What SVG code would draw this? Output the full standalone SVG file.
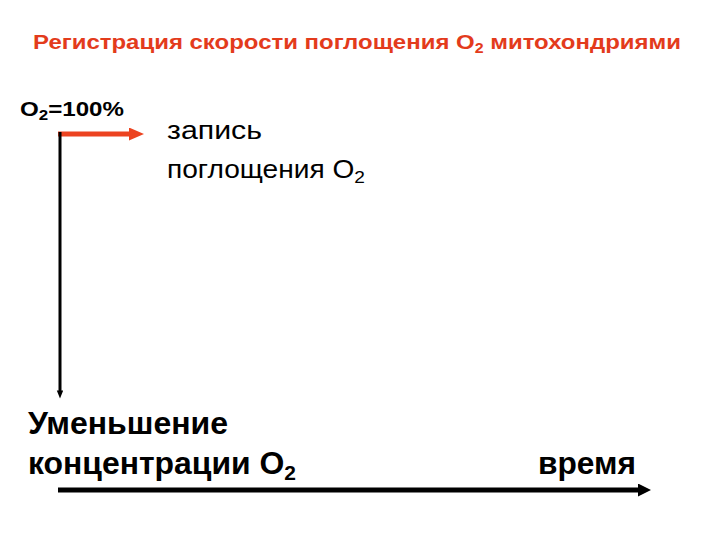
<svg xmlns="http://www.w3.org/2000/svg" width="720" height="540" viewBox="0 0 720 540">
<style>
text{font-family:"Liberation Sans",Arial,sans-serif;fill:#000}
.b{font-weight:bold}
.title{fill:#e33b1c;font-weight:bold;font-size:21px}
</style>
<defs>
<marker id="ar" viewBox="0 0 15 13" refX="7" refY="6.5" markerWidth="15" markerHeight="13" orient="auto" markerUnits="userSpaceOnUse"><path d="M0,0L15,6.5L0,13z" fill="#ec4320"/></marker>
<marker id="ak" viewBox="0 0 8 10" refX="2" refY="4" markerWidth="10" markerHeight="8" orient="auto" markerUnits="userSpaceOnUse"><path d="M0,0L10,4L0,8z" fill="#000"/></marker>
<marker id="ak2" viewBox="0 0 13 13" refX="2" refY="6.5" markerWidth="13" markerHeight="13" orient="auto" markerUnits="userSpaceOnUse"><path d="M0,0L13,6.5L0,13z" fill="#000"/></marker>
</defs>
<rect width="720" height="540" fill="#fff"/>
<g id="title"><text class="title" x="33" y="49" textLength="648" lengthAdjust="spacingAndGlyphs">Регистрация скорости поглощения O<tspan font-size="14" dy="4">2</tspan><tspan dy="-4"> митохондриями</tspan></text></g>
<g id="o2start"><text class="b" x="20" y="116" font-size="20" textLength="104" lengthAdjust="spacingAndGlyphs">O<tspan font-size="14" dy="4">2</tspan><tspan dy="-4">=100%</tspan></text></g>
<g id="record"><text x="167" y="139" font-size="25" textLength="95" lengthAdjust="spacingAndGlyphs">запись</text><text x="167" y="178" font-size="25" textLength="198" lengthAdjust="spacingAndGlyphs">поглощения O<tspan font-size="17" dy="5">2</tspan></text></g>
<g id="decrease"><text class="b" x="28" y="434" font-size="32" textLength="200" lengthAdjust="spacingAndGlyphs">Уменьшение</text><text class="b" x="28" y="474" font-size="32" textLength="268" lengthAdjust="spacingAndGlyphs">концентрации O<tspan font-size="21" dy="6">2</tspan></text></g>
<g id="time"><text class="b" x="538" y="474" font-size="32" textLength="98" lengthAdjust="spacingAndGlyphs">время</text></g>
<g id="connectors">
<line x1="58" y1="134" x2="136" y2="134" stroke="#ec4320" stroke-width="5" marker-end="url(#ar)"/>
<line x1="60" y1="132" x2="60" y2="392" stroke="#000" stroke-width="3" marker-end="url(#ak)"/>
<line x1="58" y1="490" x2="640" y2="490" stroke="#000" stroke-width="5" marker-end="url(#ak2)"/>
</g>
</svg>
